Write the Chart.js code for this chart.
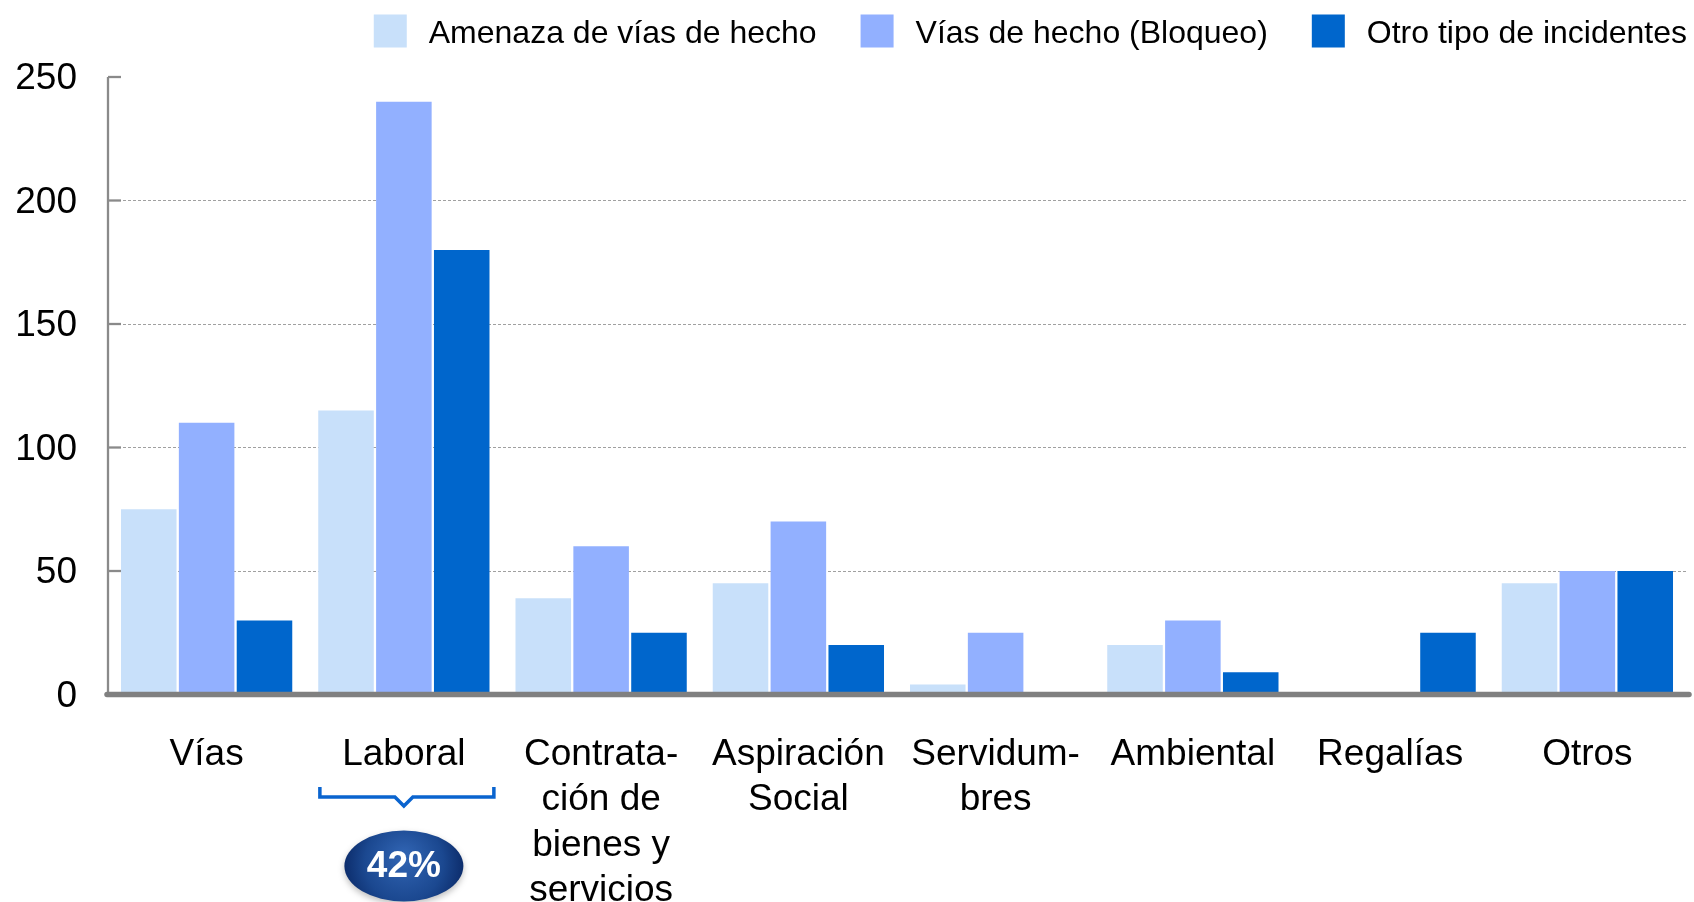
<!DOCTYPE html>
<html>
<head>
<meta charset="utf-8">
<script src="https://cdn.jsdelivr.net/npm/chart.js@4/dist/chart.umd.min.js"></script>
<style>
  html, body { margin: 0; padding: 0; background: #ffffff; }
  #wrap { width: 1694px; height: 902px; position: relative; }
</style>
</head>
<body>
<div id="wrap"><canvas id="c" width="1694" height="902"></canvas></div>
<script>
// ---- Data ----
const categories = [
  'Vías',
  'Laboral',
  ['Contrata-', 'ción de', 'bienes y', 'servicios'],
  ['Aspiración', 'Social'],
  ['Servidum-', 'bres'],
  'Ambiental',
  'Regalías',
  'Otros'
];
const seriesNames = ['Amenaza de vías de hecho', 'Vías de hecho (Bloqueo)', 'Otro tipo de incidentes'];
const amenaza = [75, 115, 39, 45, 4, 20, 0, 45];
const bloqueo = [110, 240, 60, 70, 25, 30, 0, 50];
const otroTipo = [30, 180, 25, 20, 0, 9, 25, 50];
const yTicks = [0, 50, 100, 150, 200, 250];
const highlightIndex = 1;
const highlightLabel = '42%';

const seriesColors = ['#C8E0FA', '#92B0FF', '#0066CC'];
const FONT = '"Liberation Sans", Arial, Helvetica, sans-serif';

const overlayPlugin = {
  id: 'overlay',
  afterDraw(chart) {
    const ctx = chart.ctx;
    const area = chart.chartArea;
    const xs = chart.scales.x;
    const ys = chart.scales.y;
    ctx.save();

    // y axis line
    ctx.strokeStyle = '#8a8a8a';
    ctx.lineWidth = 2.3;
    ctx.beginPath();
    ctx.moveTo(area.left, ys.getPixelForValue(yTicks[yTicks.length - 1]));
    ctx.lineTo(area.left, area.bottom);
    ctx.stroke();

    // inner tick marks
    yTicks.forEach(v => {
      const y = ys.getPixelForValue(v);
      ctx.beginPath();
      ctx.moveTo(area.left, y);
      ctx.lineTo(area.left + 13, y);
      ctx.stroke();
    });

    // x axis thick line
    ctx.strokeStyle = '#808080';
    ctx.lineWidth = 5.5;
    ctx.lineCap = 'round';
    ctx.beginPath();
    ctx.moveTo(area.left - 1, area.bottom);
    ctx.lineTo(area.right + 3, area.bottom);
    ctx.stroke();
    ctx.lineCap = 'butt';

    // legend
    ctx.font = '32px ' + FONT;
    ctx.textBaseline = 'middle';
    ctx.textAlign = 'left';
    let x = 1687;
    const ds = chart.data.datasets;
    for (let i = ds.length - 1; i >= 0; i--) {
      const w = ctx.measureText(ds[i].label).width;
      const tx = x - w;
      ctx.fillStyle = '#000000';
      ctx.fillText(ds[i].label, tx, 34.5);
      const bx = tx - 22 - 33;
      ctx.fillStyle = ds[i].backgroundColor;
      ctx.fillRect(bx, 14.5, 33, 33);
      x = bx - 44;
    }

    // highlight brace + ellipse under category
    const cx = xs.getPixelForValue(highlightIndex);
    ctx.strokeStyle = '#0A64CF';
    ctx.lineWidth = 3.5;
    ctx.lineJoin = 'miter';
    ctx.beginPath();
    ctx.moveTo(cx - 84, 787);
    ctx.lineTo(cx - 84, 797);
    ctx.lineTo(cx - 9, 797);
    ctx.lineTo(cx, 806);
    ctx.lineTo(cx + 9, 797);
    ctx.lineTo(cx + 90, 797);
    ctx.lineTo(cx + 90, 787);
    ctx.stroke();

    const ecx = cx, ecy = 866;
    ctx.save();
    ctx.shadowColor = 'rgba(0,0,0,0.25)';
    ctx.shadowBlur = 6;
    ctx.shadowOffsetY = 3;
    const g = ctx.createRadialGradient(ecx, ecy - 10, 5, ecx, ecy, 62);
    g.addColorStop(0, '#2F62B0');
    g.addColorStop(0.6, '#1B4890');
    g.addColorStop(1, '#0B2A68');
    ctx.fillStyle = g;
    ctx.beginPath();
    ctx.ellipse(ecx, ecy, 59.5, 35.5, 0, 0, Math.PI * 2);
    ctx.fill();
    ctx.restore();

    ctx.fillStyle = '#ffffff';
    ctx.font = 'bold 37px ' + FONT;
    ctx.textAlign = 'center';
    ctx.textBaseline = 'middle';
    ctx.fillText(highlightLabel, ecx, ecy + 1);

    ctx.restore();
  }
};

new Chart(document.getElementById('c'), {
  type: 'bar',
  data: {
    labels: categories,
    datasets: [
      { label: seriesNames[0], data: amenaza, backgroundColor: seriesColors[0] },
      { label: seriesNames[1], data: bloqueo, backgroundColor: seriesColors[1] },
      { label: seriesNames[2], data: otroTipo, backgroundColor: seriesColors[2] }
    ]
  },
  options: {
    responsive: false,
    animation: false,
    devicePixelRatio: 1,
    layout: { padding: { top: 77, right: 8, left: 0, bottom: 0 } },
    datasets: {
      bar: { categoryPercentage: 0.88, barPercentage: 0.96, borderWidth: 0 }
    },
    plugins: {
      legend: { display: false },
      tooltip: { enabled: false }
    },
    scales: {
      x: {
        grid: { display: false, drawTicks: false },
        border: { display: false },
        ticks: {
          color: '#000000',
          font: { family: FONT, size: 37, lineHeight: 1.22 },
          padding: 38,
          maxRotation: 0,
          autoSkip: false
        },
        afterFit(scale) { scale.height = 207.5; }
      },
      y: {
        min: 0,
        max: 250,
        afterBuildTicks(scale) { scale.ticks = yTicks.map(v => ({ value: v })); },
        grid: {
          drawTicks: false,
          tickLength: 0,
          lineWidth: 1,
          color: ctx => (ctx.tick && (ctx.tick.value === 0 || ctx.tick.value === 250)) ? 'rgba(0,0,0,0)' : '#a0a0a0'
        },
        border: { display: false, dash: [3, 2] },
        ticks: {
          color: '#000000',
          font: { family: FONT, size: 37 },
          padding: 31,
          labelOffset: 2
        },
        afterFit(scale) { scale.width = 108; }
      }
    }
  },
  plugins: [overlayPlugin]
});
</script>
</body>
</html>
